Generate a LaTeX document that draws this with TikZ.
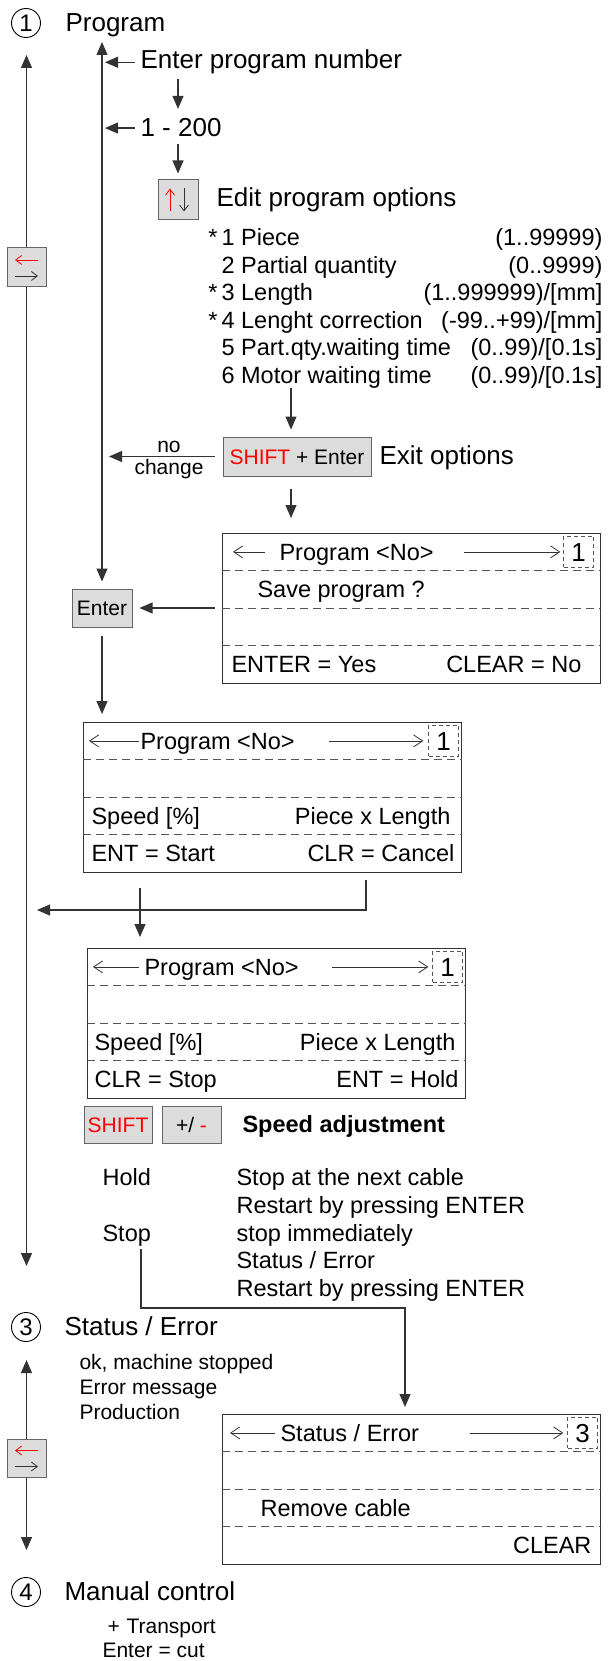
\documentclass[tikz,border=0pt]{standalone}
\usepackage{fontspec}
\setmainfont{Liberation Sans}
\usetikzlibrary{arrows.meta}
\definecolor{ink}{HTML}{333333}
\definecolor{keyfill}{HTML}{DCDCDC}
\definecolor{keyline}{HTML}{666666}
\definecolor{dashgray}{HTML}{555555}
\newcommand{\fhead}{\fontsize{26}{30}\selectfont}
\newcommand{\fbody}{\fontsize{23.5}{28}\selectfont}
\newcommand{\fsmall}{\fontsize{21}{25}\selectfont}
\begin{document}
\begin{tikzpicture}[x=1pt,y=-1pt,line width=1.1pt,>={Triangle[length=13pt,width=11pt]}]
    \tikzstyle{num}=[draw,circle,line width=0.9pt,minimum size=29pt,inner sep=0pt,font=\fontsize{24}{28}\selectfont]
    \tikzstyle{hd}=[anchor=base west,inner sep=0pt,font=\fhead]
    \tikzstyle{txt}=[anchor=base west,inner sep=0pt,font=\fbody]
    \tikzstyle{txtr}=[txt,anchor=base east]
    \tikzstyle{sm}=[anchor=base west,inner sep=0pt,font=\fsmall]
    \tikzstyle{key}=[draw=keyline,fill=keyfill,line width=1pt,inner sep=0pt,font=\fsmall,text height=15pt,text depth=0pt]
    \tikzstyle{scr}=[draw=ink,anchor=north west,minimum width=378pt,minimum height=150pt,inner sep=0pt]
    \tikzstyle{nbox}=[draw=dashgray,line width=0.8pt,dash pattern=on 4pt off 3pt,minimum width=30pt,minimum height=31pt,inner sep=0pt,anchor=north east,font=\fhead,text height=18.6pt,text depth=0pt]
    \tikzstyle{sarr}=[ink,line width=0.8pt,-{Straight Barb[length=9pt,width=12pt]}]
    \tikzstyle{karr}=[line width=0.8pt,-{Straight Barb[length=6pt,width=9pt]}]
    \useasboundingbox (0,0) rectangle (610,1661);

    \node[num] (c1) at (26,23) {1};
    \node[hd] (h1) at (65,32) {Program};
    \node[hd] (enp) at (140,69) {Enter program number};
    \node[hd] (n200) at (140,137) {1 - 200};
    \node[key,minimum width=40pt,minimum height=40pt] (kud) at (178,200) {};
    \draw[karr,red] ([xshift=-8pt,yshift=-11.5pt]kud.center) -- ([xshift=-8pt,yshift=11.5pt]kud.center);
    \draw[karr,ink] ([xshift=6pt,yshift=11.5pt]kud.center) -- ([xshift=6pt,yshift=-11.5pt]kud.center);
    \node[hd] (eop) at (216,207) {Edit program options};
    \foreach \i/\s/\l/\r in {1/*/{1 Piece}/{(1..99999)}, 2/{}/{2 Partial quantity}/{(0..9999)},
        3/*/{3 Length}/{(1..999999)/[mm]}, 4/*/{4 Lenght correction}/{(-99..+99)/[mm]},
        5/{}/{5 Part.qty.waiting time}/{(0..99)/[0.1s]}, 6/{}/{6 Motor waiting time}/{(0..99)/[0.1s]}}
    {
      \node[txt] (opl\i) at (221,218.6+27.4*\i) {\l};
      \node[txtr] (opr\i) at (603,218.6+27.4*\i) {\r};
      \node[txtr] (ops\i) at ([xshift=-3pt]opl\i.base west) {\s};
    }
    \node[key,minimum width=148pt,minimum height=39pt] (kse) at (297,456.5) {\textcolor{red}{SHIFT} + Enter};
    \node[hd] (eo) at (379,464) {Exit options};
    \node[sm,anchor=base] (no) at (169,452) {no};
    \node[sm,anchor=base] (chg) at (169,474) {change};

    \node[key,minimum width=39pt,minimum height=39pt] (lr1) at (26.5,267.5) {};
    \draw[karr,red] ([xshift=11.5pt,yshift=7.5pt]lr1.center) -- ([xshift=-11.5pt,yshift=7.5pt]lr1.center);
    \draw[karr,ink] ([xshift=-11.5pt,yshift=-8.5pt]lr1.center) -- ([xshift=11.5pt,yshift=-8.5pt]lr1.center);
    \coordinate (lt1) at (26.5,55);
    \coordinate (lb1) at (26.5,1266);
    \draw[ink,->] (lr1) -- (lt1);
    \draw[ink,->] (lr1) -- (lb1);

    \node[key,minimum width=60pt,minimum height=38pt] (ent) at (102,608) {Enter};
    \coordinate (pt) at (102,42);
    \coordinate (ax) at (291,0);
    \draw[ink,<->,shorten >=7pt] (pt) -- (ent);
    \draw[ink,->,shorten <=5pt,shorten >=3pt] (enp.west) -- (enp.west -| pt);
    \draw[ink,->,shorten <=5pt,shorten >=3pt] (n200.west) -- (n200.west -| pt);
    \draw[ink,->,shorten <=4.5pt,shorten >=9.4pt] (enp.south -| kud) -- (n200.north -| kud);
    \draw[ink,->,shorten <=6pt,shorten >=6pt] (n200.south -| kud) -- (kud);
    \draw[ink,->,shorten >=7pt] (opl6.south -| ax) -- (kse.north -| ax);
    \draw[ink,->,shorten <=8pt,shorten >=7pt] (kse.west) -- (kse.west -| pt);

    \node[scr] (save) at (222,533) {};
    \node[scr] (prog) at (83,722) {};
    \node[scr] (run) at (87,948) {};
    \node[scr] (stat) at (222,1414) {};
    \foreach \s in {save,prog,run,stat}
      \foreach \k in {1,2,3}
        \draw[dashgray,line width=0.9pt,dash pattern=on 8pt off 5pt] ([yshift=-\k*37.5pt]\s.north west) -- ([yshift=-\k*37.5pt]\s.north east);

    \node[nbox] (sn) at ([xshift=-7pt,yshift=-3pt]save.north east) {1};
    \node[txt] (sp) at (279,560) {Program <No>};
    \draw[sarr,shorten <=14pt,shorten >=11pt] (sp.west |- sn.west) -- (save.west |- sn.west);
    \draw[sarr,shorten <=30pt,shorten >=3pt] (sp.east |- sn.west) -- (sn.west);
    \node[txt] (sv) at (257,597.5) {Save program ?};
    \node[txt] (sy) at (231,672.5) {ENTER = Yes};
    \node[txtr] (sno) at (582,672.5) {CLEAR = No};
    \draw[ink,->,shorten <=12pt,shorten >=15pt] (kse.south -| ax) -- (save.north -| ax);
    \draw[ink,->,shorten <=7pt,shorten >=7pt] (save.west |- ent) -- (ent);
    \draw[ink,->,shorten <=8pt,shorten >=8pt] (ent) -- (ent |- prog.north);

    \node[nbox] (pn) at ([xshift=-3pt,yshift=-3pt]prog.north east) {1};
    \node[txt] (pp) at (140,749) {Program <No>};
    \draw[sarr,shorten <=1pt,shorten >=6pt] (pp.west |- pn.west) -- (prog.west |- pn.west);
    \draw[sarr,shorten <=34pt,shorten >=5pt] (pp.east |- pn.west) -- (pn.west);
    \node[txt] (ps) at (91,824) {Speed [\%]};
    \node[txtr] (ppl) at (451,824) {Piece x Length};
    \node[txt] (pst) at (91,861.5) {ENT = Start};
    \node[txtr] (pcn) at (455,861.5) {CLR = Cancel};

    \coordinate (bk) at (366,880);
    \coordinate (bk2) at (37,910);
    \draw[ink,->] (bk) |- (bk2);
    \draw[ink,->,shorten <=15pt,shorten >=11pt] (prog.south -| pp.west) -- (run.north -| pp.west);

    \node[nbox] (rn) at ([xshift=-3pt,yshift=-3pt]run.north east) {1};
    \node[txt] (rp) at (144,975) {Program <No>};
    \draw[sarr,shorten <=5pt,shorten >=6pt] (rp.west |- rn.west) -- (run.west |- rn.west);
    \draw[sarr,shorten <=33pt,shorten >=4pt] (rp.east |- rn.west) -- (rn.west);
    \node[txt] (rs) at (94,1050) {Speed [\%]};
    \node[txtr] (rl) at (456,1050) {Piece x Length};
    \node[txt] (rst) at (94,1087.5) {CLR = Stop};
    \node[txtr] (rh) at (459,1087.5) {ENT = Hold};

    \node[key,minimum width=68pt,minimum height=37pt] (ksh) at (118,1124.5) {\textcolor{red}{SHIFT}};
    \node[key,minimum width=59pt,minimum height=37pt] (kpm) at (191.5,1124.5) {+/ \textcolor{red}{-}};
    \node[txt,font=\fbody\bfseries] (spd) at (242,1132) {Speed adjustment};

    \node[txt] (hold) at (102,1185) {Hold};
    \node[txt] (stp) at (102,1241) {Stop};
    \node[txt] (d1) at (236,1185) {Stop at the next cable};
    \node[txt] (d2) at (236,1213) {Restart by pressing ENTER};
    \node[txt] (d3) at (236,1241) {stop immediately};
    \node[txt] (d4) at (236,1268.5) {Status / Error};
    \node[txt] (d5) at (236,1296) {Restart by pressing ENTER};
    \coordinate (sd) at (141,1249);
    \coordinate (sj) at (405,1308);
    \draw[ink,->,shorten >=7pt] (sd) |- (sj) -- (sj |- stat.north);

    \node[num] (c3) at (26,1327) {3};
    \node[hd] (h3) at (64,1335) {Status / Error};
    \node[sm] (s1) at (79,1369) {ok, machine stopped};
    \node[sm] (s2) at (79,1394) {Error message};
    \node[sm] (s3) at (79,1419) {Production};
    \node[key,minimum width=39pt,minimum height=38pt] (lr3) at (26.5,1458) {};
    \draw[karr,red] ([xshift=11.5pt,yshift=7.5pt]lr3.center) -- ([xshift=-11.5pt,yshift=7.5pt]lr3.center);
    \draw[karr,ink] ([xshift=-11.5pt,yshift=-8.5pt]lr3.center) -- ([xshift=11.5pt,yshift=-8.5pt]lr3.center);
    \coordinate (lt3) at (26.5,1360);
    \coordinate (lb3) at (26.5,1550);
    \draw[ink,->] (lr3) -- (lt3);
    \draw[ink,->] (lr3) -- (lb3);

    \node[nbox] (stn) at ([xshift=-3pt,yshift=-3pt]stat.north east) {3};
    \node[txt] (stt) at (280,1441) {Status / Error};
    \draw[sarr,shorten <=5pt,shorten >=8pt] (stt.west |- stn.west) -- (stat.west |- stn.west);
    \draw[sarr,shorten <=50pt,shorten >=4pt] (stt.east |- stn.west) -- (stn.west);
    \node[txt] (rmc) at (260,1516) {Remove cable};
    \node[txtr] (clr) at (592,1553.5) {CLEAR};

    \node[num] (c4) at (26,1592) {4};
    \node[hd] (h4) at (64,1600) {Manual control};
    \node[sm] (pls) at (107,1633) {+};
    \node[sm] (tr) at (126,1633) {Transport};
    \node[sm] (cut) at (102,1657) {Enter = cut};
\end{tikzpicture}
\end{document}
